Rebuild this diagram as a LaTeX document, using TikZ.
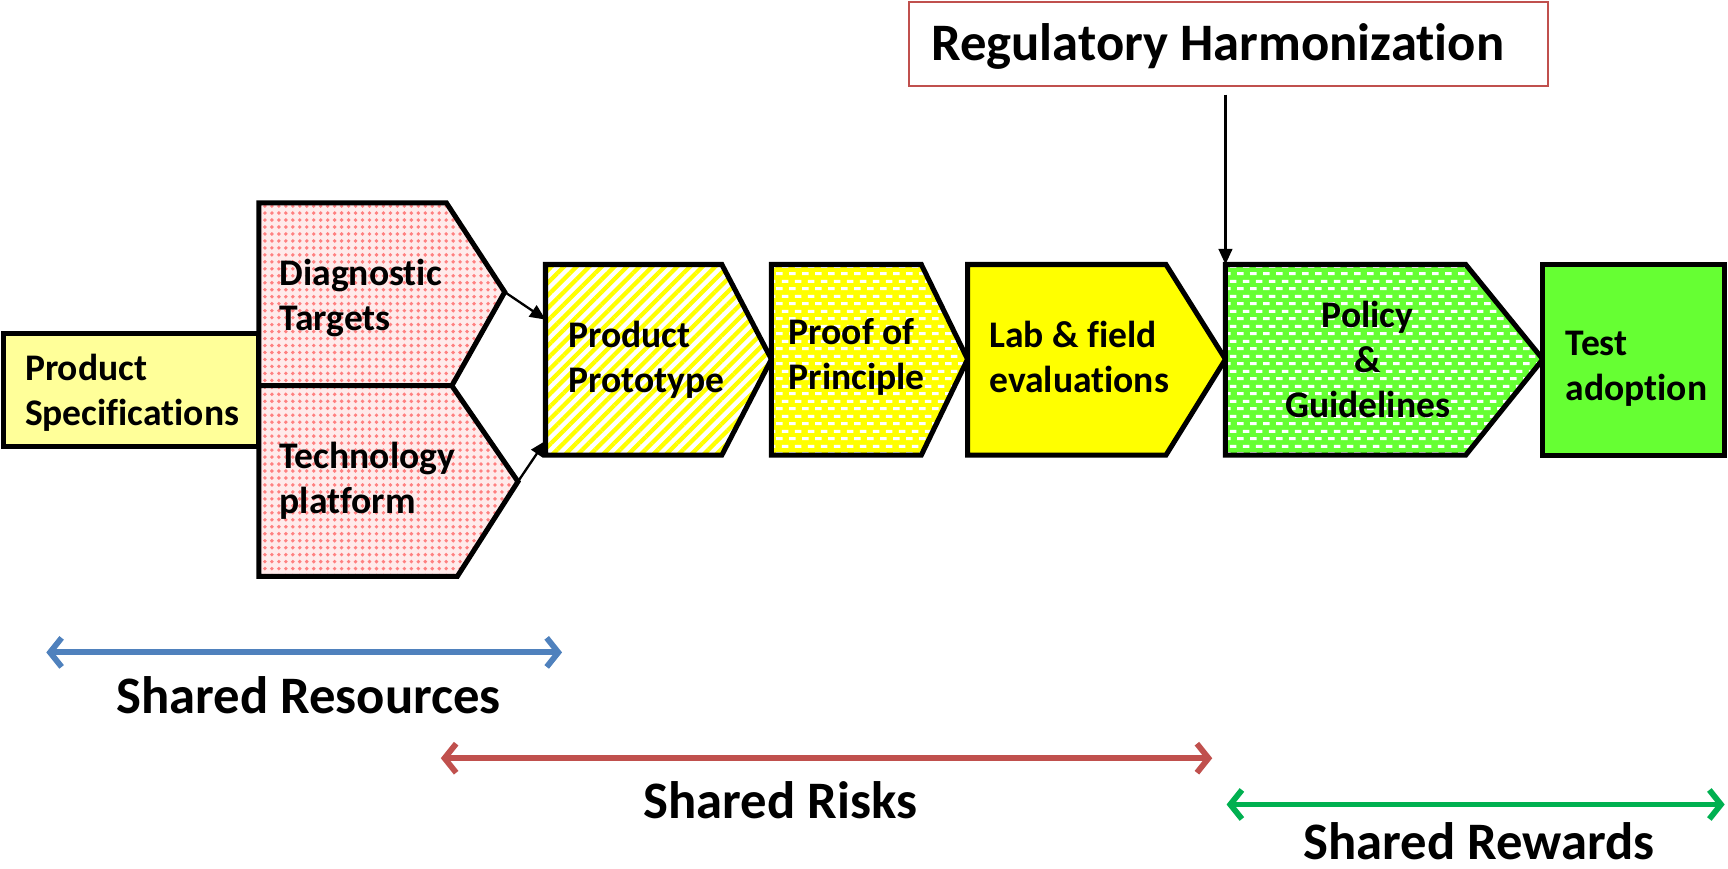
\documentclass[tikz,border=0pt]{standalone}
\usepackage{fontspec}
\setmainfont[Ligatures=NoCommon]{Carlito}
\usetikzlibrary{arrows.meta}
\usetikzlibrary{patterns.meta}
\definecolor{specyellow}{HTML}{FFFF99}
\definecolor{stageyellow}{HTML}{FFFF00}
\definecolor{stagegreen}{HTML}{66FF33}
\definecolor{resblue}{HTML}{4F81BD}
\definecolor{riskred}{HTML}{C0504D}
\definecolor{rewgreen}{HTML}{00B050}
\pgfdeclarepattern{
  name=dashrows,
  type=uncolored,
  bottom left={\pgfpoint{0pt}{0pt}},
  top right={\pgfpoint{3.4pt}{3.8pt}},
  tile size={\pgfpoint{3.4pt}{3.8pt}},
  code={
    \pgfpathrectangle{\pgfpoint{0pt}{0.5pt}}{\pgfpoint{1.8pt}{0.8pt}}
    \pgfpathrectangle{\pgfpoint{1.6pt}{2.4pt}}{\pgfpoint{1.8pt}{0.8pt}}
    \pgfusepath{fill}
  }
}
\tikzset{stage/.style={draw=black, line width=1.3pt},
 steptext/.style={font=\fontsize{9.7}{11.6}\selectfont\bfseries, align=left, inner sep=0pt, anchor=base west},
 bigtext/.style={font=\fontsize{13.6}{16}\selectfont\bfseries, inner sep=0pt, anchor=base},
 feed/.style={-{Triangle[length=4pt,width=3.5pt]}, line width=0.6pt},
 span/.style={{Straight Barb[length=3pt,width=7.5pt]}-{Straight Barb[length=3pt,width=7.5pt]}, line width=1.5pt},
 pinkdots/.style={preaction={fill=red!8}, pattern={Dots[distance=1.8pt,radius=0.5pt]}, pattern color=red!50},
 ystripes/.style={preaction={fill=white}, pattern={Lines[angle=45,distance=2.3pt,line width=1.1pt]}, pattern color=stageyellow},
 ydashes/.style={preaction={fill=stageyellow}, pattern=dashrows, pattern color=white},
 gdashes/.style={preaction={fill=stagegreen}, pattern=dashrows, pattern color=white},
}

\begin{document}
\begin{tikzpicture}[x=0.1mm, y=-0.1mm]
    \useasboundingbox (0,0) rectangle (1568,788);

    % process chain
    \draw[stage, fill=specyellow] (3,303) rectangle (235,405);
    \draw[stage, pinkdots] (235,184) -- (405,184) -- (458,265) coordinate (diag-tip)
        -- (410,350) -- (235,350) -- cycle;
    \draw[stage, pinkdots] (235,350) -- (410,350) -- (470,437) coordinate (tech-tip)
        -- (415,523) -- (235,523) -- cycle;
    \draw[stage, ystripes] (495,240) -- (655,240) -- (700,326) -- (655,413) -- (495,413) -- cycle;
    \draw[stage, ydashes] (700,240) -- (836,240) -- (878,326) -- (836,413) -- (700,413) -- cycle;
    \draw[stage, fill=stageyellow] (878,240) -- (1058,240) -- (1112,326) -- (1058,413) -- (878,413) -- cycle;
    \draw[stage, gdashes] (1112,240) coordinate (policy-top) -- (1330,240) -- (1400,326)
        -- (1330,413) -- (1112,413) -- cycle;
    \draw[stage, fill=stagegreen] (1400,240) rectangle (1565,413);

    \coordinate (proto-in-a) at (495,290);
    \coordinate (proto-in-b) at (495,400);

    \node[steptext] (spec) at (22,386) {Product\\Specifications};
    \node[steptext] (diag) at (253,300) {Diagnostic\\Targets};
    \node[steptext] (tech) at (253,466) {Technology\\platform};
    \node[steptext] (proto) at (515,356) {Product\\Prototype};
    \node[steptext] (proof) at (715,353) {Proof of\\Principle};
    \node[steptext] (lab) at (897,356) {Lab \& field\\evaluations};
    \node[steptext, align=center, anchor=base] (policy) at (1241,379) {Policy\\\&\\Guidelines};
    \node[steptext] (test) at (1420,363) {Test\\adoption};

    \draw[feed] (diag-tip) -- (proto-in-a);
    \draw[feed] (tech-tip) -- (proto-in-b);

    % regulatory box
    \node[draw=riskred, line width=0.5pt, minimum width=58mm, minimum height=7.6mm] (reg) at (1115,40) {};
    \node[bigtext] (reg-txt) at (1105,55) {Regulatory Harmonization};
    \draw[feed] ([yshift=-0.7mm]reg.south -| policy-top) -- (policy-top);

    % shared ranges
    \coordinate (res-l) at (42,592);
    \coordinate (res-r) at (510,592);
    \coordinate (risk-l) at (400,688);
    \coordinate (risk-r) at (1100,688);
    \coordinate (rew-l) at (1113,730);
    \coordinate (rew-r) at (1565,730);
    \draw[span, resblue] (res-l) -- (res-r);
    \draw[span, riskred] (risk-l) -- (risk-r);
    \draw[span, rewgreen] (rew-l) -- (rew-r);
    \node[bigtext] (res) at (280,647) {Shared Resources};
    \node[bigtext] (risk) at (708,743) {Shared Risks};
    \node[bigtext] (rew) at (1342,780) {Shared Rewards};
\end{tikzpicture}
\end{document}
